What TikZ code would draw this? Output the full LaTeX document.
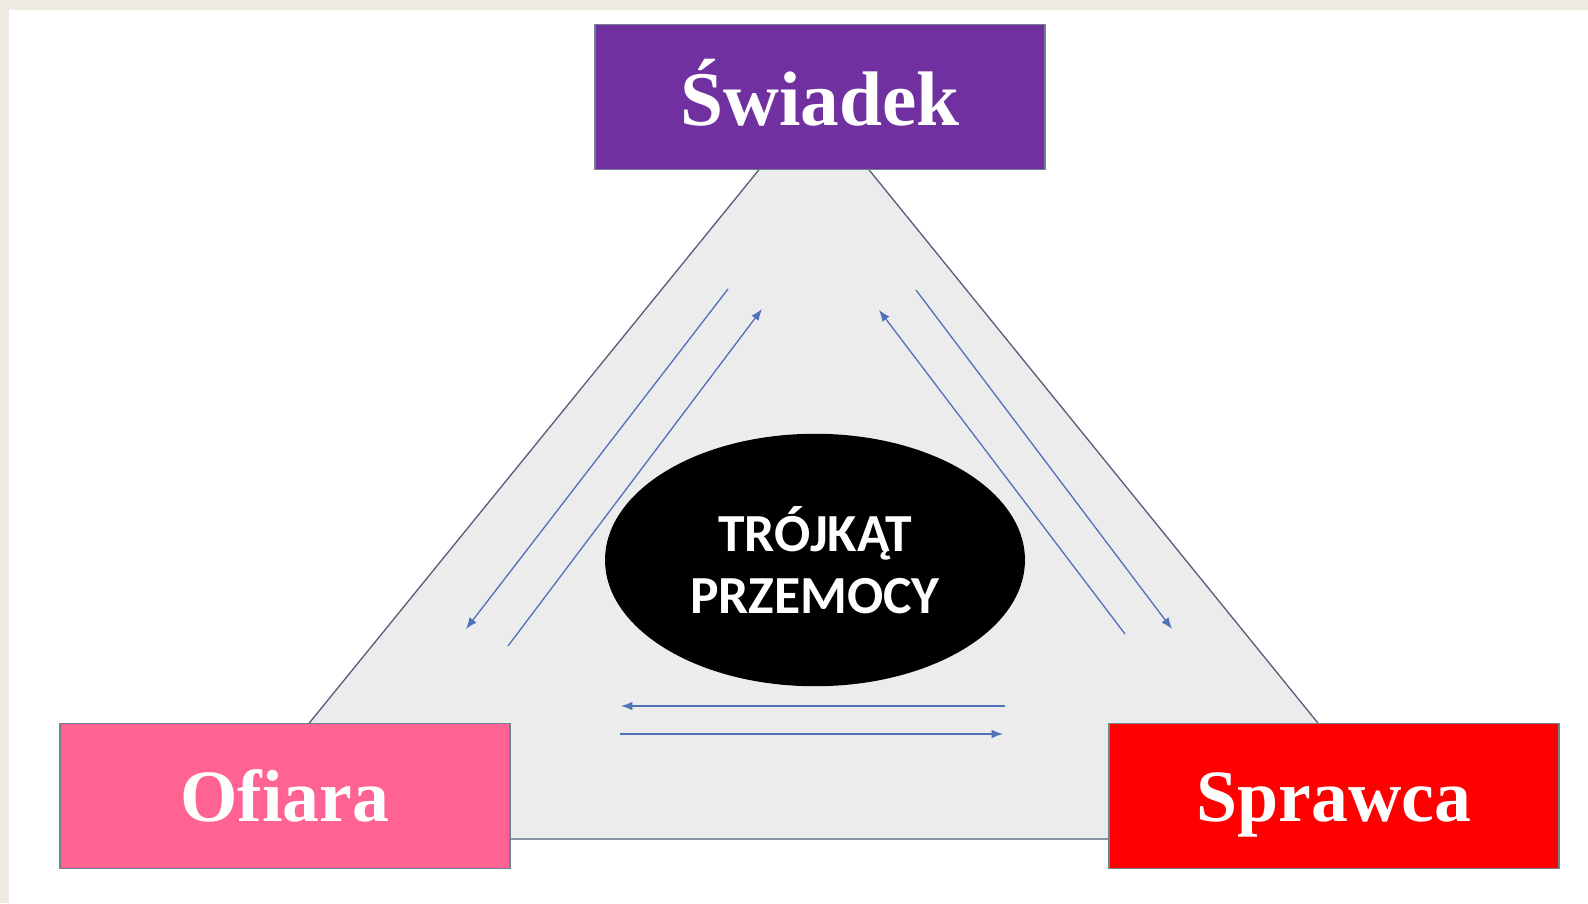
\documentclass[tikz,border=0pt]{standalone}
\usepackage{fontspec}
\setmainfont{Liberation Serif}
\newfontfamily\carlito{Carlito}
\usetikzlibrary{shapes.geometric,arrows.meta,positioning}

\definecolor{kremowy}{HTML}{EFEBE3}
\definecolor{fiolet}{HTML}{7030A0}
\definecolor{rozowy}{HTML}{FF6392}
\definecolor{czerwony}{HTML}{FF0000}
\definecolor{tlo}{HTML}{ECECEC}
\definecolor{krawedz}{HTML}{52607A}
\definecolor{strzalka}{HTML}{4F72B8}

\tikzset{
  rola/.style={draw=krawedz!80, line width=0.8pt, minimum width=9cm, minimum height=2.9cm,
    inner sep=0pt, text=white, text height=29pt, text depth=0pt,
    font=\fontsize{42}{50}\selectfont\bfseries},
  strz/.style={draw=strzalka, line width=0.75pt, -{Latex[length=6.5pt,width=5pt]}},
}

\begin{document}
\begin{tikzpicture}[x=0.02cm,y=-0.02cm]
        % Background and frame
        \useasboundingbox (0,0) rectangle (1588,903);
        \fill[kremowy] (0,0) rectangle (1588,903);
        \fill[white] (9,10) rectangle (1588,903);

        % Triangle behind the boxes
        \coordinate (szczyt) at (814,102);
        \coordinate (lewy) at (215,839);
        \coordinate (prawy) at (1412,839);
        \filldraw[fill=tlo, draw=krawedz, line width=0.75pt] (szczyt) -- (lewy) -- (prawy) -- cycle;

        % Roles
        \node[rola, fill=fiolet] (swiadek) at (820,97) {\fontsize{44}{50}\selectfont\raisebox{-2pt}{Świadek}};
        \node[rola, fill=rozowy] (ofiara) at (285,796) {Ofiara};
        \node[rola, fill=czerwony] (sprawca) at (1334,796) {Sprawca};

        % Centre
        \node[ellipse, fill=black, minimum width=8.4cm, minimum height=5.05cm, inner sep=0pt,
          text=white, align=center, font=\carlito\bfseries\fontsize{30.5}{37.5}\selectfont]
          (trojkat) at (815,560) {\raisebox{-2pt}{TRÓJKĄT}\\PRZEMOCY};

        % Arrows, left side
        \coordinate (l1a) at (728,289);
        \coordinate (l1b) at (466,629);
        \coordinate (l2a) at (508,646);
        \coordinate (l2b) at (762,309);
        \draw[strz] (l1a) -- (l1b);
        \draw[strz] (l2a) -- (l2b);

        % Arrows, right side
        \coordinate (p1a) at (1125,634);
        \coordinate (p1b) at (879,310);
        \coordinate (p2a) at (916,290);
        \coordinate (p2b) at (1172,629);
        \draw[strz] (p1a) -- (p1b);
        \draw[strz] (p2a) -- (p2b);

        % Arrows, bottom
        \coordinate (d1a) at (1005,706);
        \coordinate (d1b) at (621,706);
        \coordinate (d2a) at (620,734);
        \coordinate (d2b) at (1003,734);
        \draw[strz] (d1a) -- (d1b);
        \draw[strz] (d2a) -- (d2b);
    \end{tikzpicture}
\end{document}
